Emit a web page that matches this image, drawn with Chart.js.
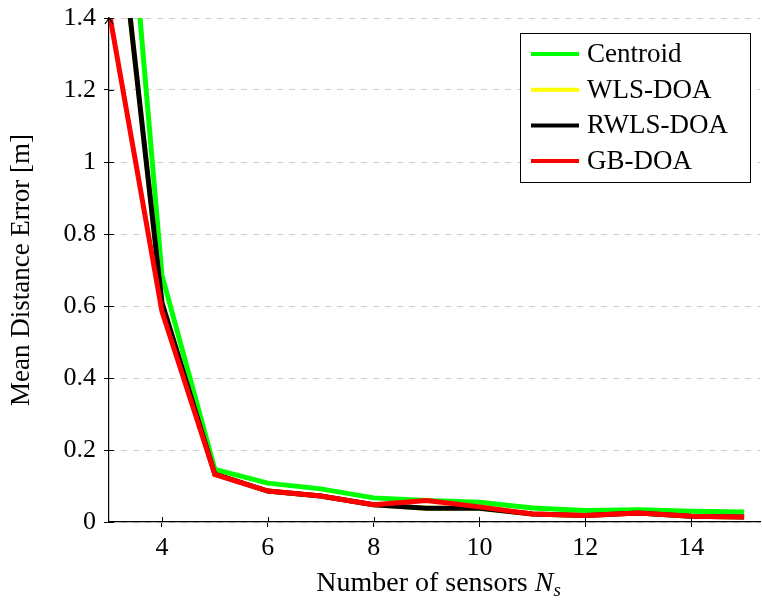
<!DOCTYPE html>
<html>
<head>
<meta charset="utf-8">
<script src="https://cdn.jsdelivr.net/npm/chart.js@4.4.1/dist/chart.umd.min.js"></script>
<style>
  html, body { margin: 0; padding: 0; background: #fff; }
  #wrap { width: 762px; height: 600px; position: relative; }
</style>
</head>
<body>
<div id="wrap"><canvas id="myChart" width="762" height="600"></canvas></div>
<script>
// number of sensors
const sensors = [3, 4, 5, 6, 7, 8, 9, 10, 11, 12, 13, 14, 15];
const xTicks = [4, 6, 8, 10, 12, 14];

// mean distance error [m]
const centroid = [2.41, 0.686, 0.146, 0.108, 0.092, 0.067, 0.060, 0.055, 0.039, 0.032, 0.034, 0.030, 0.028];
const wlsDoa   = [1.93, 0.610, 0.133, 0.086, 0.072, 0.048, 0.038, 0.038, 0.022, 0.018, 0.025, 0.016, 0.014];
const rwlsDoa  = [1.93, 0.610, 0.133, 0.086, 0.072, 0.048, 0.038, 0.038, 0.022, 0.018, 0.025, 0.016, 0.014];
const gbDoa    = [1.42, 0.585, 0.132, 0.086, 0.072, 0.048, 0.060, 0.042, 0.022, 0.018, 0.025, 0.016, 0.014];

const seriesNames = ['Centroid', 'WLS-DOA', 'RWLS-DOA', 'GB-DOA'];
const seriesColors = ['#00ff00', '#ffff00', '#000000', '#ff0000'];

const FONT = "'Liberation Serif', 'DejaVu Serif', serif";

const toPoints = arr => arr.map((v, i) => ({ x: sensors[i], y: v }));

const datasets = [centroid, wlsDoa, rwlsDoa, gbDoa].map((vals, i) => ({
    label: seriesNames[i],
    data: toPoints(vals),
    borderColor: seriesColors[i],
    backgroundColor: seriesColors[i],
    borderWidth: 5,
    pointRadius: 0,
    tension: 0,
    order: 3 - i
}));

// legend box in the upper right, axis arrow, inner tick marks and x title with N_s
const extras = {
    id: 'extras',
    afterDraw(chart) {
        const ctx = chart.ctx;
        const area = chart.chartArea;
        ctx.save();

        // inner halves of the tick marks
        ctx.strokeStyle = '#000';
        ctx.lineWidth = 1;
        ctx.beginPath();
        chart.scales.x.ticks.forEach(t => {
            const px = Math.round(chart.scales.x.getPixelForValue(t.value)) + 0.5;
            ctx.moveTo(px, area.bottom);
            ctx.lineTo(px, area.bottom - 5);
        });
        chart.scales.y.ticks.forEach(t => {
            const py = Math.round(chart.scales.y.getPixelForValue(t.value)) + 0.5;
            ctx.moveTo(area.left, py);
            ctx.lineTo(area.left + 5, py);
        });
        ctx.stroke();

        // arrow head at top of y axis
        ctx.lineWidth = 1.2;
        ctx.beginPath();
        ctx.moveTo(area.left - 4, area.top + 6);
        ctx.lineTo(area.left, area.top);
        ctx.lineTo(area.left + 4, area.top + 6);
        ctx.stroke();

        // legend
        const bx = 520, by = 33, bw = 230, bh = 149;
        ctx.fillStyle = '#fff';
        ctx.fillRect(bx, by, bw, bh);
        ctx.strokeStyle = '#000';
        ctx.lineWidth = 1;
        ctx.strokeRect(bx + 0.5, by + 0.5, bw, bh);
        ctx.font = '27px ' + FONT;
        ctx.textBaseline = 'middle';
        ctx.textAlign = 'left';
        seriesNames.forEach((name, i) => {
            const y = by + 21 + i * 35.7;
            ctx.strokeStyle = seriesColors[i];
            ctx.lineWidth = 4;
            ctx.beginPath();
            ctx.moveTo(bx + 11, y);
            ctx.lineTo(bx + 59, y);
            ctx.stroke();
            ctx.fillStyle = '#000';
            ctx.fillText(name, bx + 67, y + 1);
        });

        // x axis title
        const cx = (area.left + area.right) / 2 + 4;
        const ty = 591;
        const part1 = 'Number of sensors ';
        ctx.font = '28px ' + FONT;
        const w1 = ctx.measureText(part1).width;
        ctx.font = 'italic 28px ' + FONT;
        const w2 = ctx.measureText('N').width;
        ctx.font = 'italic 19px ' + FONT;
        const w3 = ctx.measureText('s').width;
        let x = cx - (w1 + w2 + w3) / 2;
        ctx.fillStyle = '#000';
        ctx.textBaseline = 'alphabetic';
        ctx.textAlign = 'left';
        ctx.font = '28px ' + FONT;
        ctx.fillText(part1, x, ty);
        x += w1;
        ctx.font = 'italic 28px ' + FONT;
        ctx.fillText('N', x, ty);
        x += w2;
        ctx.font = 'italic 19px ' + FONT;
        ctx.fillText('s', x, ty + 5);

        ctx.restore();
    }
};

const ctx = document.getElementById('myChart');
new Chart(ctx, {
    type: 'line',
    data: { datasets: datasets },
    plugins: [extras],
    options: {
        responsive: false,
        animation: false,
        layout: { padding: { top: 18, right: 2, left: 0, bottom: 0 } },
        plugins: {
            legend: { display: false },
            tooltip: { enabled: false }
        },
        scales: {
            x: {
                type: 'linear',
                min: 3,
                max: 15.3,
                afterBuildTicks: scale => { scale.ticks = xTicks.map(v => ({ value: v })); },
                afterFit: scale => { scale.height = 78; scale.paddingLeft = 0; scale.paddingRight = 0; },
                grid: { display: true, drawOnChartArea: false, drawTicks: true, tickLength: 5, color: '#000' },
                border: { color: '#000', width: 1.2 },
                ticks: { color: '#000', font: { family: FONT, size: 26 }, padding: 6, maxRotation: 0 }
            },
            y: {
                min: 0,
                max: 1.4,
                afterFit: scale => { scale.width = 109; scale.paddingTop = 0; scale.paddingBottom = 0; },
                grid: {
                    color: '#cccccc',
                    tickColor: '#000',
                    tickLength: 5,
                    lineWidth: 1
                },
                border: { color: '#000', width: 1.2, dash: [6, 6], dashOffset: 0 },
                ticks: {
                    stepSize: 0.2,
                    color: '#000',
                    font: { family: FONT, size: 26 },
                    padding: 8,
                    callback: v => String(+v.toFixed(1))
                },
                title: { display: true, text: 'Mean Distance Error [m]', color: '#000', font: { family: FONT, size: 27 }, padding: { top: 6, bottom: 4 } }
            }
        }
    }
});
</script>
</body>
</html>
